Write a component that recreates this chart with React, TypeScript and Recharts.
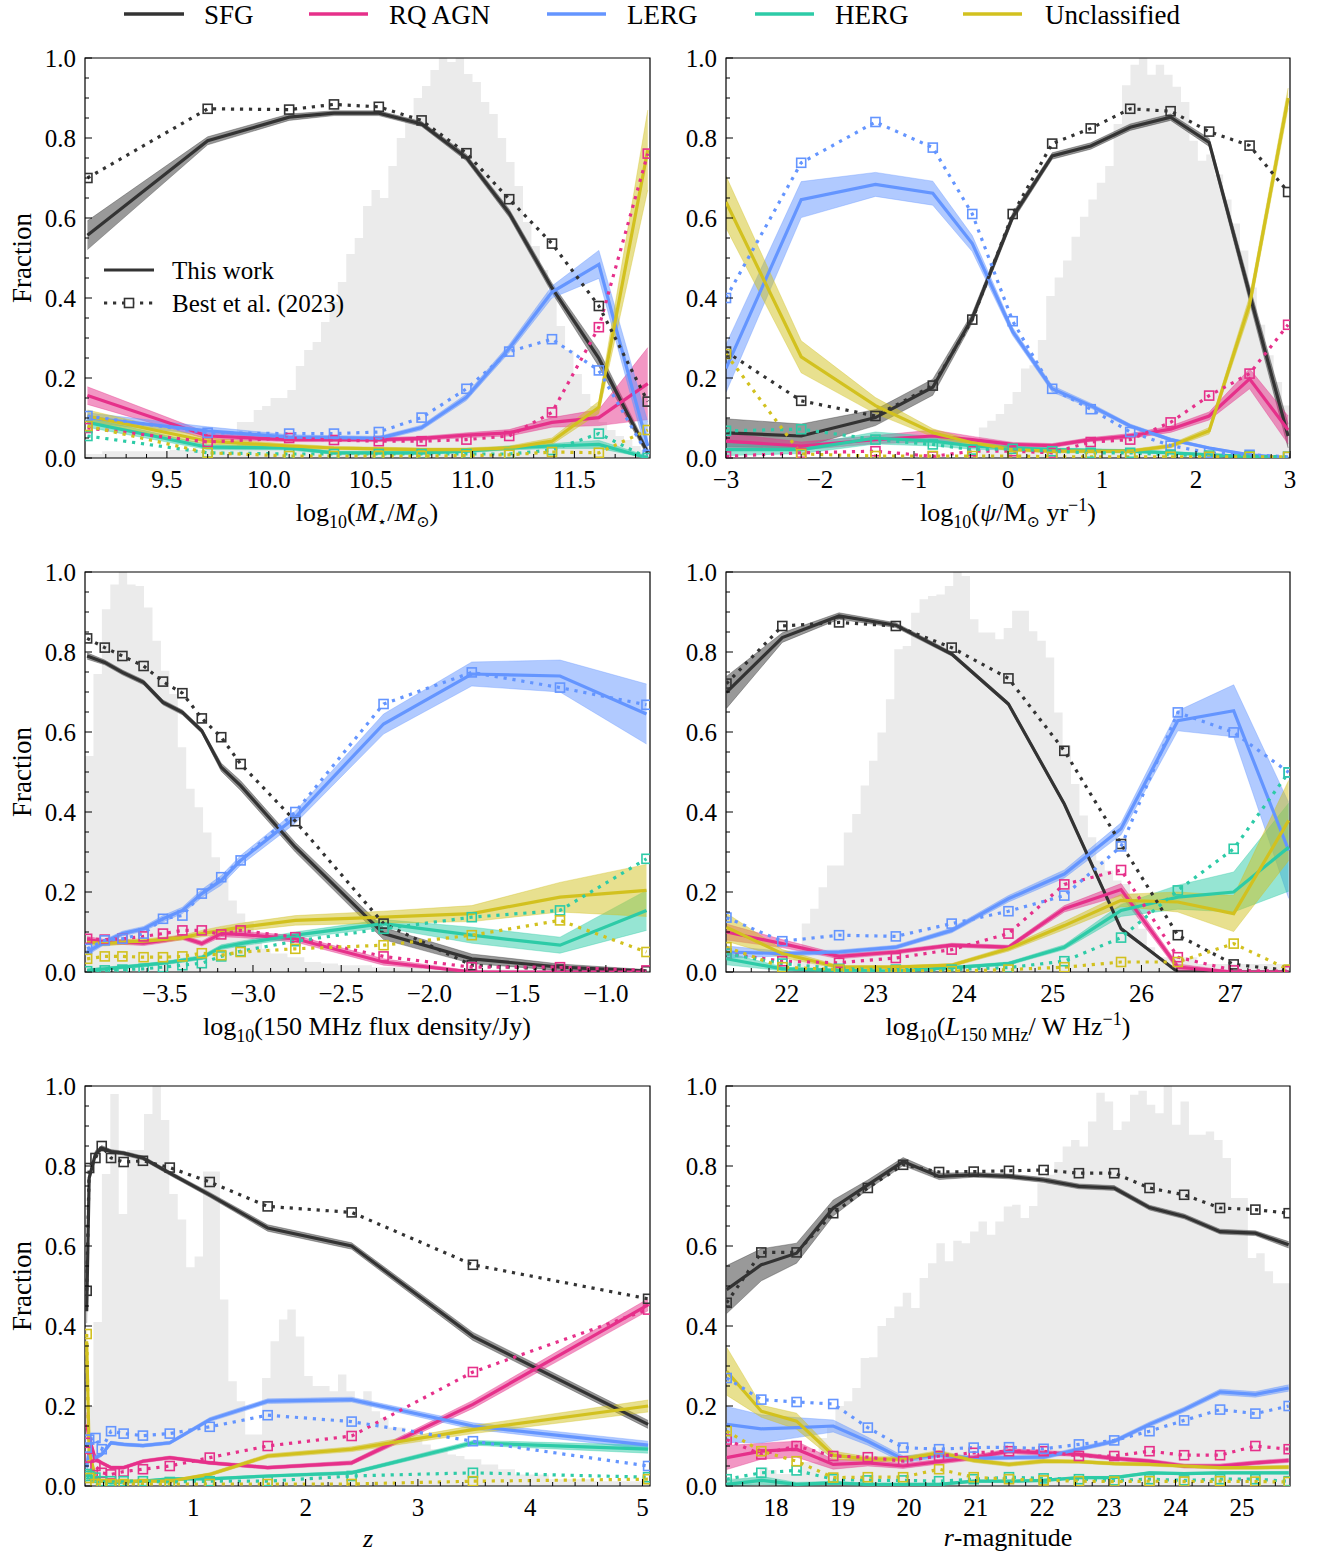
import React from 'react';
import { ComposedChart, Area, Line, XAxis, YAxis, ReferenceArea } from 'recharts';

const FONT = '"Liberation Serif", "DejaVu Serif", serif';

// class order: SFG, RQ AGN, LERG, HERG, Unclassified
const CLASS_NAMES = ['SFG', 'RQ AGN', 'LERG', 'HERG', 'Unclassified'];
const CLASS_COLORS = ['#333333', '#e6308a', '#6495ff', '#2dcba7', '#d2c11f'];

// ---- stellar mass ----
const massX = [9.11, 9.70, 10.10, 10.32, 10.54, 10.75, 10.97, 11.18, 11.39, 11.62, 11.86];
const massWork = [
  [0.557, 0.793, 0.852, 0.862, 0.862, 0.835, 0.751, 0.612, 0.425, 0.249, 0.013],
  [0.156, 0.055, 0.046, 0.046, 0.046, 0.049, 0.057, 0.063, 0.089, 0.101, 0.186],
  [0.101, 0.068, 0.052, 0.051, 0.049, 0.076, 0.152, 0.274, 0.415, 0.484, 0.03],
  [0.089, 0.027, 0.025, 0.013, 0.013, 0.013, 0.017, 0.025, 0.030, 0.034, 0.0],
  [0.105, 0.042, 0.030, 0.025, 0.023, 0.021, 0.021, 0.025, 0.042, 0.127, 0.77],
];
const massErr = [
  [0.036, 0.01, 0.008, 0.006, 0.006, 0.006, 0.008, 0.01, 0.012, 0.02, 0.01],
  [0.022, 0.008, 0.005, 0.005, 0.005, 0.005, 0.006, 0.008, 0.012, 0.02, 0.09],
  [0.012, 0.01, 0.006, 0.005, 0.005, 0.006, 0.008, 0.01, 0.015, 0.035, 0.06],
  [0.012, 0.006, 0.005, 0.004, 0.004, 0.004, 0.004, 0.005, 0.006, 0.01, 0.005],
  [0.015, 0.008, 0.005, 0.004, 0.004, 0.004, 0.004, 0.005, 0.008, 0.015, 0.1],
];
const massBest = [
  [0.70, 0.873, 0.871, 0.884, 0.878, 0.844, 0.762, 0.647, 0.536, 0.38, 0.141],
  [0.075, 0.04, 0.05, 0.045, 0.042, 0.042, 0.046, 0.055, 0.114, 0.327, 0.761],
  [0.105, 0.063, 0.061, 0.061, 0.065, 0.101, 0.173, 0.266, 0.297, 0.219, 0.008],
  [0.055, 0.013, 0.01, 0.01, 0.01, 0.01, 0.01, 0.01, 0.02, 0.061, 0.0],
  [0.08, 0.013, 0.005, 0.005, 0.005, 0.005, 0.006, 0.008, 0.015, 0.013, 0.07],
];
const massHistLo = 9.1;
const massHistBin = 0.0413;
const massHist = [0.01, 0.01, 0.017, 0.017, 0.017, 0.017, 0.017, 0.017, 0.017, 0.017, 0.02, 0.02, 0.02, 0.02, 0.02, 0.022, 0.022, 0.025, 0.09, 0.09, 0.12, 0.13, 0.15, 0.15, 0.17, 0.23, 0.27, 0.29, 0.34, 0.39, 0.44, 0.51, 0.55, 0.63, 0.67, 0.65, 0.73, 0.80, 0.85, 0.90, 0.93, 0.97, 1.0, 0.99, 1.0, 0.96, 0.94, 0.89, 0.86, 0.80, 0.74, 0.68, 0.59, 0.53, 0.47, 0.40, 0.33, 0.27, 0.21, 0.16, 0.13, 0.09, 0.07, 0.055, 0.045, 0.03, 0.02];

// ---- star formation rate ----
const sfrX = [-3.0, -2.2, -1.41, -0.80, -0.38, 0.05, 0.47, 0.88, 1.30, 1.73, 2.14, 2.57, 2.98];
const sfrWork = [
  [0.063, 0.055, 0.101, 0.177, 0.35, 0.603, 0.755, 0.78, 0.827, 0.852, 0.789, 0.41, 0.055],
  [0.042, 0.03, 0.046, 0.055, 0.046, 0.034, 0.031, 0.046, 0.055, 0.072, 0.105, 0.198, 0.07],
  [0.224, 0.646, 0.684, 0.662, 0.536, 0.316, 0.173, 0.131, 0.08, 0.046, 0.025, 0.008, 0.0],
  [0.021, 0.021, 0.05, 0.042, 0.03, 0.025, 0.021, 0.019, 0.017, 0.013, 0.008, 0.004, 0.0],
  [0.64, 0.253, 0.131, 0.063, 0.038, 0.021, 0.017, 0.017, 0.017, 0.03, 0.068, 0.384, 0.9],
];
const sfrErr = [
  [0.035, 0.03, 0.02, 0.02, 0.012, 0.01, 0.008, 0.008, 0.008, 0.008, 0.01, 0.02, 0.03],
  [0.02, 0.01, 0.01, 0.015, 0.008, 0.005, 0.005, 0.005, 0.006, 0.008, 0.01, 0.025, 0.035],
  [0.06, 0.045, 0.03, 0.03, 0.02, 0.01, 0.008, 0.006, 0.005, 0.004, 0.003, 0.002, 0.002],
  [0.015, 0.01, 0.015, 0.012, 0.008, 0.005, 0.004, 0.004, 0.004, 0.003, 0.003, 0.002, 0.002],
  [0.065, 0.04, 0.02, 0.01, 0.006, 0.004, 0.004, 0.004, 0.004, 0.005, 0.008, 0.02, 0.025],
];
const sfrBest = [
  [0.266, 0.143, 0.105, 0.181, 0.346, 0.61, 0.786, 0.824, 0.873, 0.867, 0.816, 0.781, 0.665],
  [0.004, 0.013, 0.017, 0.004, 0.017, 0.017, 0.013, 0.04, 0.046, 0.089, 0.156, 0.211, 0.333],
  [0.40, 0.738, 0.84, 0.776, 0.61, 0.342, 0.173, 0.122, 0.065, 0.031, 0.013, 0.008, 0.003],
  [0.068, 0.072, 0.046, 0.034, 0.021, 0.023, 0.017, 0.013, 0.013, 0.008, 0.006, 0.004, 0.003],
  [0.26, 0.01, 0.005, 0.005, 0.005, 0.005, 0.003, 0.003, 0.003, 0.003, 0.003, 0.003, 0.003],
];
const sfrHistLo = -0.31;
const sfrHistBin = 0.0896;
const sfrHist = [0.076, 0.093, 0.11, 0.135, 0.165, 0.224, 0.232, 0.295, 0.405, 0.451, 0.494, 0.553, 0.603, 0.646, 0.688, 0.73, 0.835, 0.932, 0.983, 1.0, 0.958, 0.983, 0.958, 0.928, 0.89, 0.793, 0.743, 0.759, 0.709, 0.646, 0.586, 0.519, 0.426, 0.333, 0.257, 0.19, 0.131];

// ---- 150 MHz flux density ----
const fluxX = [-3.94, -3.84, -3.74, -3.62, -3.51, -3.40, -3.29, -3.18, -3.07, -2.76, -2.26, -1.76, -1.26, -0.77];
const fluxWork = [
  [0.79, 0.774, 0.749, 0.724, 0.674, 0.649, 0.603, 0.512, 0.466, 0.312, 0.096, 0.033, 0.012, 0.002],
  [0.081, 0.075, 0.075, 0.072, 0.079, 0.087, 0.071, 0.096, 0.094, 0.083, 0.025, 0.0, 0.0, 0.0],
  [0.05, 0.075, 0.096, 0.108, 0.133, 0.154, 0.196, 0.229, 0.279, 0.387, 0.62, 0.745, 0.74, 0.645],
  [0.004, 0.008, 0.012, 0.017, 0.022, 0.029, 0.036, 0.062, 0.071, 0.092, 0.121, 0.092, 0.067, 0.154],
  [0.075, 0.071, 0.075, 0.077, 0.081, 0.086, 0.096, 0.104, 0.112, 0.129, 0.137, 0.146, 0.187, 0.204],
];
const fluxErr = [
  [0.008, 0.006, 0.006, 0.006, 0.006, 0.006, 0.006, 0.01, 0.012, 0.012, 0.015, 0.012, 0.008, 0.004],
  [0.008, 0.006, 0.006, 0.006, 0.006, 0.006, 0.006, 0.008, 0.008, 0.008, 0.008, 0.003, 0.002, 0.002],
  [0.008, 0.006, 0.006, 0.006, 0.008, 0.008, 0.01, 0.012, 0.012, 0.015, 0.025, 0.03, 0.04, 0.075],
  [0.004, 0.004, 0.004, 0.004, 0.004, 0.005, 0.005, 0.006, 0.006, 0.008, 0.01, 0.02, 0.02, 0.05],
  [0.006, 0.006, 0.006, 0.006, 0.006, 0.006, 0.008, 0.01, 0.01, 0.012, 0.015, 0.02, 0.037, 0.065],
];
const fluxBest = [
  [0.834, 0.811, 0.79, 0.765, 0.726, 0.697, 0.634, 0.587, 0.52, 0.377, 0.121, 0.017, 0.006, 0.002],
  [0.083, 0.081, 0.083, 0.089, 0.096, 0.104, 0.104, 0.094, 0.104, 0.087, 0.039, 0.012, 0.012, 0.004],
  [0.058, 0.079, 0.083, 0.096, 0.133, 0.141, 0.196, 0.237, 0.279, 0.40, 0.67, 0.749, 0.711, 0.668],
  [0.002, 0.004, 0.006, 0.008, 0.012, 0.017, 0.022, 0.039, 0.052, 0.077, 0.108, 0.137, 0.154, 0.283],
  [0.033, 0.039, 0.039, 0.037, 0.037, 0.039, 0.047, 0.042, 0.05, 0.058, 0.067, 0.092, 0.129, 0.05],
];
const fluxHistLo = -3.952;
const fluxHistBin = 0.0478;
const fluxHist = [0.54, 0.745, 0.907, 0.969, 1.0, 0.969, 0.965, 0.911, 0.828, 0.753, 0.695, 0.562, 0.458, 0.412, 0.349, 0.287, 0.245, 0.179, 0.146, 0.125, 0.075, 0.058, 0.046, 0.046, 0.037, 0.037, 0.025, 0.025, 0.021, 0.021, 0.017, 0.017, 0.017, 0.017, 0.012, 0.012, 0.012, 0.012, 0.012, 0.012, 0.008, 0.008, 0.008, 0.008, 0.008, 0.006, 0.006, 0.006, 0.006, 0.006, 0.006, 0.006, 0.006, 0.006, 0.006, 0.006, 0.006, 0.005, 0.005, 0.005, 0.005, 0.005, 0.005, 0.005, 0.005, 0.005, 0.005];

// ---- 150 MHz luminosity ----
const lumX = [21.32, 21.95, 22.59, 23.23, 23.86, 24.50, 25.13, 25.77, 26.41, 27.04, 27.66];
const lumWork = [
  [0.699, 0.836, 0.89, 0.867, 0.795, 0.67, 0.42, 0.108, 0.0, 0.0, 0.0],
  [0.10, 0.071, 0.039, 0.05, 0.067, 0.062, 0.158, 0.206, 0.012, 0.0, 0.0],
  [0.05, 0.046, 0.05, 0.062, 0.104, 0.183, 0.245, 0.358, 0.628, 0.653, 0.304],
  [0.033, 0.008, 0.004, 0.002, 0.011, 0.021, 0.062, 0.154, 0.187, 0.2, 0.312],
  [0.112, 0.046, 0.012, 0.012, 0.017, 0.058, 0.116, 0.179, 0.175, 0.146, 0.379],
];
const lumErr = [
  [0.04, 0.012, 0.008, 0.006, 0.005, 0.005, 0.005, 0.005, 0.002, 0.002, 0.002],
  [0.02, 0.01, 0.006, 0.005, 0.005, 0.005, 0.008, 0.015, 0.008, 0.002, 0.002],
  [0.015, 0.006, 0.005, 0.005, 0.006, 0.008, 0.01, 0.015, 0.025, 0.065, 0.12],
  [0.015, 0.005, 0.003, 0.002, 0.003, 0.004, 0.006, 0.015, 0.03, 0.05, 0.11],
  [0.035, 0.01, 0.004, 0.004, 0.004, 0.006, 0.01, 0.015, 0.025, 0.045, 0.1],
];
const lumBest = [
  [0.721, 0.865, 0.874, 0.865, 0.811, 0.734, 0.553, 0.32, 0.092, 0.019, 0.004],
  [0.046, 0.027, 0.023, 0.035, 0.056, 0.096, 0.219, 0.255, 0.037, 0.004, 0.002],
  [0.136, 0.077, 0.092, 0.089, 0.121, 0.152, 0.191, 0.314, 0.649, 0.599, 0.499],
  [0.046, 0.021, 0.008, 0.006, 0.006, 0.011, 0.027, 0.086, 0.204, 0.308, 0.499],
  [0.062, 0.012, 0.006, 0.004, 0.002, 0.006, 0.012, 0.025, 0.025, 0.071, 0.006],
];
const lumHistLo = 22.074;
const lumHistBin = 0.0949;
const lumHist = [0.05, 0.121, 0.158, 0.212, 0.266, 0.266, 0.349, 0.395, 0.466, 0.528, 0.599, 0.682, 0.807, 0.815, 0.898, 0.932, 0.94, 0.944, 0.965, 1.0, 0.99, 0.882, 0.849, 0.849, 0.832, 0.86, 0.903, 0.903, 0.852, 0.828, 0.786, 0.649, 0.566, 0.47, 0.391, 0.337, 0.279, 0.254, 0.229, 0.22, 0.196, 0.108, 0.062, 0.037, 0.037, 0.037, 0.037, 0.037, 0.02, 0.02, 0.02, 0.02, 0.02, 0.02, 0.02, 0.02, 0.02, 0.02, 0.02];

// ---- redshift ----
const zX = [0.05, 0.072, 0.128, 0.184, 0.267, 0.379, 0.551, 0.79, 1.146, 1.662, 2.41, 3.49, 5.05];
const zWork = [
  [0.437, 0.77, 0.83, 0.845, 0.836, 0.832, 0.82, 0.782, 0.728, 0.645, 0.60, 0.374, 0.154],
  [0.154, 0.12, 0.067, 0.058, 0.046, 0.046, 0.062, 0.071, 0.058, 0.046, 0.058, 0.204, 0.453],
  [0.046, 0.087, 0.071, 0.079, 0.108, 0.104, 0.101, 0.108, 0.166, 0.212, 0.216, 0.15, 0.102],
  [0.021, 0.029, 0.017, 0.012, 0.008, 0.01, 0.012, 0.018, 0.018, 0.025, 0.033, 0.108, 0.092],
  [0.362, 0.087, 0.021, 0.012, 0.012, 0.012, 0.012, 0.012, 0.029, 0.075, 0.092, 0.141, 0.20],
];
const zErr = [
  [0.03, 0.01, 0.008, 0.006, 0.005, 0.005, 0.005, 0.005, 0.006, 0.008, 0.008, 0.01, 0.01],
  [0.03, 0.015, 0.006, 0.004, 0.004, 0.004, 0.004, 0.004, 0.004, 0.004, 0.005, 0.01, 0.015],
  [0.02, 0.01, 0.006, 0.005, 0.004, 0.004, 0.004, 0.004, 0.005, 0.006, 0.006, 0.008, 0.01],
  [0.01, 0.008, 0.004, 0.003, 0.003, 0.003, 0.003, 0.003, 0.003, 0.003, 0.004, 0.006, 0.01],
  [0.03, 0.015, 0.005, 0.003, 0.003, 0.003, 0.003, 0.003, 0.004, 0.005, 0.006, 0.01, 0.015],
];
const zBest = [
  [0.488, 0.795, 0.82, 0.85, 0.82, 0.81, 0.813, 0.796, 0.76, 0.699, 0.684, 0.553, 0.468],
  [0.108, 0.071, 0.05, 0.033, 0.029, 0.036, 0.042, 0.05, 0.071, 0.10, 0.125, 0.285, 0.441],
  [0.096, 0.116, 0.12, 0.092, 0.137, 0.131, 0.126, 0.131, 0.148, 0.177, 0.161, 0.112, 0.05],
  [0.03, 0.025, 0.021, 0.012, 0.012, 0.012, 0.012, 0.01, 0.012, 0.012, 0.025, 0.033, 0.022],
  [0.38, 0.02, 0.005, 0.005, 0.005, 0.005, 0.005, 0.005, 0.005, 0.005, 0.005, 0.012, 0.017],
];
const zHistLo = 0.035;
const zHistBin = 0.0751;
const zHist = [0.2, 0.41, 0.78, 0.98, 0.68, 0.84, 0.84, 0.93, 1.0, 0.915, 0.73, 0.666, 0.547, 0.574, 0.786, 0.786, 0.466, 0.262, 0.212, 0.129, 0.129, 0.27, 0.362, 0.416, 0.441, 0.374, 0.275, 0.25, 0.25, 0.237, 0.279, 0.237, 0.212, 0.237, 0.187, 0.17, 0.146, 0.146, 0.116, 0.116, 0.104, 0.092, 0.092, 0.079, 0.075, 0.067, 0.067, 0.054, 0.054, 0.042, 0.042, 0.029, 0.029, 0.029, 0.029, 0.017, 0.017, 0.017, 0.017, 0.017, 0.012, 0.012, 0.012, 0.012, 0.012, 0.012, 0.012];

// ---- r-band magnitude ----
const rX = [17.26, 17.78, 18.31, 18.86, 19.38, 19.91, 20.45, 20.97, 21.50, 22.02, 22.55, 23.08, 23.61, 24.13, 24.67, 25.20, 25.70];
const rWork = [
  [0.491, 0.553, 0.582, 0.695, 0.753, 0.811, 0.774, 0.778, 0.774, 0.765, 0.749, 0.745, 0.696, 0.674, 0.636, 0.632, 0.603],
  [0.071, 0.087, 0.092, 0.054, 0.058, 0.05, 0.061, 0.071, 0.087, 0.083, 0.079, 0.069, 0.062, 0.05, 0.05, 0.058, 0.064],
  [0.154, 0.143, 0.146, 0.15, 0.112, 0.067, 0.077, 0.069, 0.071, 0.072, 0.092, 0.112, 0.154, 0.191, 0.235, 0.229, 0.245],
  [0.004, 0.014, 0.004, 0.008, 0.004, 0.004, 0.004, 0.012, 0.012, 0.014, 0.021, 0.021, 0.033, 0.031, 0.033, 0.033, 0.033],
  [0.287, 0.187, 0.162, 0.077, 0.067, 0.067, 0.083, 0.064, 0.054, 0.062, 0.061, 0.056, 0.054, 0.05, 0.046, 0.046, 0.047],
];
const rErr = [
  [0.06, 0.04, 0.025, 0.02, 0.012, 0.01, 0.008, 0.006, 0.006, 0.006, 0.006, 0.006, 0.006, 0.006, 0.006, 0.006, 0.008],
  [0.03, 0.02, 0.02, 0.012, 0.008, 0.006, 0.006, 0.006, 0.006, 0.006, 0.005, 0.005, 0.005, 0.005, 0.005, 0.005, 0.005],
  [0.045, 0.035, 0.025, 0.015, 0.01, 0.008, 0.006, 0.005, 0.005, 0.005, 0.005, 0.005, 0.006, 0.006, 0.007, 0.007, 0.008],
  [0.01, 0.01, 0.005, 0.004, 0.003, 0.003, 0.003, 0.003, 0.003, 0.003, 0.003, 0.003, 0.003, 0.003, 0.003, 0.003, 0.003],
  [0.06, 0.015, 0.02, 0.01, 0.006, 0.006, 0.006, 0.005, 0.005, 0.005, 0.004, 0.004, 0.004, 0.004, 0.004, 0.004, 0.004],
];
const rBest = [
  [0.458, 0.584, 0.584, 0.682, 0.745, 0.803, 0.785, 0.786, 0.788, 0.79, 0.782, 0.782, 0.745, 0.728, 0.695, 0.691, 0.682],
  [0.116, 0.079, 0.10, 0.075, 0.072, 0.062, 0.075, 0.083, 0.087, 0.087, 0.075, 0.075, 0.087, 0.077, 0.077, 0.10, 0.092],
  [0.27, 0.216, 0.21, 0.205, 0.146, 0.096, 0.092, 0.096, 0.097, 0.093, 0.104, 0.114, 0.137, 0.164, 0.191, 0.181, 0.20],
  [0.017, 0.033, 0.039, 0.017, 0.014, 0.014, 0.012, 0.017, 0.022, 0.019, 0.017, 0.014, 0.017, 0.014, 0.017, 0.017, 0.012],
  [0.137, 0.087, 0.062, 0.021, 0.022, 0.022, 0.042, 0.022, 0.017, 0.014, 0.012, 0.011, 0.012, 0.011, 0.012, 0.011, 0.01],
];
const rHistLo = 17.25;
const rHistBin = 0.1264;
const rHist = [0.02, 0.02, 0.02, 0.02, 0.046, 0.04, 0.03, 0.03, 0.03, 0.06, 0.06, 0.12, 0.15, 0.2, 0.212, 0.245, 0.32, 0.322, 0.4, 0.42, 0.449, 0.483, 0.445, 0.52, 0.557, 0.607, 0.562, 0.613, 0.607, 0.636, 0.661, 0.628, 0.661, 0.699, 0.703, 0.67, 0.7, 0.757, 0.778, 0.81, 0.849, 0.865, 0.849, 0.911, 0.983, 0.961, 0.89, 0.911, 0.978, 0.988, 0.953, 0.932, 1.0, 0.903, 0.961, 0.878, 0.878, 0.886, 0.865, 0.82, 0.72, 0.72, 0.57, 0.582, 0.537, 0.507, 0.507];

const steps = (a: number, b: number, s: number) => {
  const out: number[] = [];
  for (let v = a; v <= b + 1e-9; v += s) out.push(Math.round(v * 1000) / 1000);
  return out;
};
const minus = (s: string) => s.replace('-', '\u2212');

function buildRows(xs: number[], work: number[][], err: number[][], best: number[][], histLo: number, histBin: number, hist: number[]) {
  const rows: any[] = [];
  hist.forEach((h, k) => rows.push({ x: histLo + k * histBin, h }));
  rows.push({ x: histLo + hist.length * histBin, h: hist[hist.length - 1] });
  xs.forEach((x, j) => {
    const r: any = { x };
    for (let i = 0; i < 5; i++) {
      const v = work[i][j];
      r['w' + i] = v;
      r['band' + i] = [Math.max(0, v - err[i][j]), Math.min(1, v + err[i][j])];
      r['b' + i] = best[i][j];
    }
    rows.push(r);
  });
  rows.sort((a, b) => a.x - b.x);
  return rows;
}

const squareDot = (color: string) => (p: any) => {
  const key = `sq-${p.index}`;
  if (p.cx == null || p.cy == null || p.value == null) return <g key={key} />;
  return <rect key={key} x={p.cx - 4.5} y={p.cy - 4.5} width={9} height={9} fill="none" stroke={color} strokeWidth={1.6} />;
};

const isIn = (list: number[], v: number) => list.some((m) => Math.abs(m - v) < 1e-6);

// axis boxes are 1px wide/high so recharts still renders them; ticks point inward
const xTick = (majors: number[], fmt: (v: number) => string) => (p: any) => {
  const v = p.payload.value;
  const major = isIn(majors, v);
  return (
    <g>
      <line x1={p.x} x2={p.x} y1={p.y} y2={p.y - (major ? 7 : 4)} stroke="#000" strokeWidth={1} />
      {major && (
        <text x={p.x} y={p.y + 30} textAnchor="middle" fontSize={25} fontFamily={FONT} fill="#000">{fmt(v)}</text>
      )}
    </g>
  );
};

const Y_MAJORS = [0, 0.2, 0.4, 0.6, 0.8, 1.0];
const yTick = (p: any) => {
  const v = p.payload.value;
  const major = isIn(Y_MAJORS, v);
  return (
    <g>
      <line x1={p.x} x2={p.x + (major ? 7 : 4)} y1={p.y} y2={p.y} stroke="#000" strokeWidth={1} />
      {major && (
        <text x={p.x - 9} y={p.y + 8.5} textAnchor="end" fontSize={25} fontFamily={FONT} fill="#000">{v.toFixed(1)}</text>
      )}
    </g>
  );
};

type PanelProps = {
  left: number; top: number; ml: number; mr: number;
  domain: [number, number]; majors: number[]; ticks: number[]; fmt: (v: number) => string;
  xs: number[]; work: number[][]; err: number[][]; best: number[][];
  histLo: number; histBin: number; hist: number[];
};

function Panel(p: PanelProps) {
  const rows = buildRows(p.xs, p.work, p.err, p.best, p.histLo, p.histBin, p.hist);
  return (
    <div style={{ position: 'absolute', left: p.left, top: p.top }}>
      <ComposedChart width={660} height={514} data={rows} margin={{ top: 58, right: p.mr, bottom: 55, left: p.ml - 1 }}>
        <XAxis dataKey="x" type="number" domain={p.domain} ticks={p.ticks} interval={0} allowDataOverflow
          axisLine={false} tickLine={false} tickSize={0} tickMargin={0} height={1} tick={xTick(p.majors, p.fmt)} />
        <YAxis type="number" domain={[0, 1]} ticks={steps(0, 1, 0.05)} interval={0} allowDataOverflow
          axisLine={false} tickLine={false} tickSize={0} tickMargin={0} width={1} tick={yTick} />
        <Area dataKey="h" type="stepAfter" fill="#ebebeb" fillOpacity={1} stroke="none" connectNulls isAnimationActive={false} />
        {CLASS_COLORS.map((c, i) => (
          <Area key={'band' + i} dataKey={'band' + i} type="linear" fill={c} fillOpacity={0.5} stroke={c} strokeOpacity={0.35} strokeWidth={1} connectNulls isAnimationActive={false} />
        ))}
        {CLASS_COLORS.map((c, i) => (
          <Line key={'w' + i} dataKey={'w' + i} type="linear" stroke={c} strokeWidth={3.2} dot={false} connectNulls isAnimationActive={false} />
        ))}
        {CLASS_COLORS.map((c, i) => (
          <Line key={'b' + i} dataKey={'b' + i} type="linear" stroke={c} strokeWidth={3.2} strokeDasharray="3.2 5.8" dot={squareDot(c)} connectNulls isAnimationActive={false} />
        ))}
        <ReferenceArea x1={p.domain[0]} x2={p.domain[1]} y1={0} y2={1} fill="none" stroke="#000" strokeWidth={1.2} ifOverflow="visible" />
      </ComposedChart>
    </div>
  );
}

const sub = (t: string, size = 18) => [
  <tspan key="s" dy={7} fontSize={size}>{t}</tspan>,
];

export default function App() {
  const oneDec = (v: number) => minus(v.toFixed(1));
  const intFmt = (v: number) => minus(String(Math.round(v)));
  const txt = { fontFamily: FONT, fill: '#000' } as const;
  const legendItems = [
    { x1: 124, x2: 184, tx: 204 },
    { x1: 309, x2: 368, tx: 389 },
    { x1: 547, x2: 606, tx: 627 },
    { x1: 755, x2: 814, tx: 835 },
    { x1: 963, x2: 1022, tx: 1045 },
  ];
  return (
    <div style={{ position: 'absolute', left: 0, top: 0, width: 1319, height: 1556, background: '#fff' }}>
      <Panel left={0} top={0} ml={85} mr={10} domain={[9.098, 11.871]} majors={[9.5, 10, 10.5, 11, 11.5]} ticks={steps(9.2, 11.8, 0.1)} fmt={oneDec}
        xs={massX} work={massWork} err={massErr} best={massBest} histLo={massHistLo} histBin={massHistBin} hist={massHist} />
      <Panel left={660} top={0} ml={66} mr={30} domain={[-3, 3]} majors={[-3, -2, -1, 0, 1, 2, 3]} ticks={steps(-3, 3, 0.2)} fmt={intFmt}
        xs={sfrX} work={sfrWork} err={sfrErr} best={sfrBest} histLo={sfrHistLo} histBin={sfrHistBin} hist={sfrHist} />
      <Panel left={0} top={514} ml={85} mr={10} domain={[-3.952, -0.75]} majors={[-3.5, -3, -2.5, -2, -1.5, -1]} ticks={steps(-3.9, -0.8, 0.1)} fmt={oneDec}
        xs={fluxX} work={fluxWork} err={fluxErr} best={fluxBest} histLo={fluxHistLo} histBin={fluxHistBin} hist={fluxHist} />
      <Panel left={660} top={514} ml={66} mr={30} domain={[21.315, 27.675]} majors={[22, 23, 24, 25, 26, 27]} ticks={steps(21.4, 27.6, 0.2)} fmt={intFmt}
        xs={lumX} work={lumWork} err={lumErr} best={lumBest} histLo={lumHistLo} histBin={lumHistBin} hist={lumHist} />
      <Panel left={0} top={1028} ml={85} mr={10} domain={[0.035, 5.067]} majors={[1, 2, 3, 4, 5]} ticks={steps(0.2, 5, 0.2)} fmt={intFmt}
        xs={zX} work={zWork} err={zErr} best={zBest} histLo={zHistLo} histBin={zHistBin} hist={zHist} />
      <Panel left={660} top={1028} ml={66} mr={30} domain={[17.25, 25.72]} majors={[18, 19, 20, 21, 22, 23, 24, 25]} ticks={steps(17.5, 25.5, 0.25)} fmt={intFmt}
        xs={rX} work={rWork} err={rErr} best={rBest} histLo={rHistLo} histBin={rHistBin} hist={rHist} />

      <svg width={1319} height={1556} style={{ position: 'absolute', left: 0, top: 0, pointerEvents: 'none' }}>
        {legendItems.map((l, i) => (
          <g key={i}>
            <line x1={l.x1} x2={l.x2} y1={14} y2={14} stroke={CLASS_COLORS[i]} strokeWidth={3.5} />
            <text x={l.tx} y={24} fontSize={27} {...txt}>{CLASS_NAMES[i]}</text>
          </g>
        ))}

        <line x1={104} x2={154} y1={270} y2={270} stroke="#333333" strokeWidth={3.2} />
        <text x={172} y={279} fontSize={25} {...txt}>This work</text>
        <line x1={104} x2={154} y1={303} y2={303} stroke="#333333" strokeWidth={3.2} strokeDasharray="3.2 5.8" />
        <rect x={124.5} y={298.5} width={9} height={9} fill="#fff" stroke="#333333" strokeWidth={1.6} />
        <text x={172} y={312} fontSize={25} {...txt}>Best et al. (2023)</text>

        {[258, 772, 1286].map((cy) => (
          <text key={cy} x={31} y={cy} transform={`rotate(-90 31 ${cy})`} textAnchor="middle" fontSize={27} {...txt}>Fraction</text>
        ))}

        <text x={367} y={521} textAnchor="middle" fontSize={26} {...txt}>
          log{sub('10')}<tspan dy={-7}>(</tspan><tspan fontStyle="italic">M</tspan><tspan dy={6} fontSize={16}>⋆</tspan><tspan dy={-6}>/</tspan><tspan fontStyle="italic">M</tspan><tspan dy={6} fontSize={16}>⊙</tspan><tspan dy={-6}>)</tspan>
        </text>
        <text x={1008} y={521} textAnchor="middle" fontSize={26} {...txt}>
          log{sub('10')}<tspan dy={-7}>(</tspan><tspan fontStyle="italic">ψ</tspan><tspan>/M</tspan><tspan dy={6} fontSize={16}>⊙</tspan><tspan dy={-6}> yr</tspan><tspan dy={-10} fontSize={18}>−1</tspan><tspan dy={10}>)</tspan>
        </text>
        <text x={367} y={1035} textAnchor="middle" fontSize={26} {...txt}>
          log{sub('10')}<tspan dy={-7}>(150 MHz flux density/Jy)</tspan>
        </text>
        <text x={1008} y={1035} textAnchor="middle" fontSize={26} {...txt}>
          log{sub('10')}<tspan dy={-7}>(</tspan><tspan fontStyle="italic">L</tspan><tspan dy={6} fontSize={18}>150 MHz</tspan><tspan dy={-6}>/ W Hz</tspan><tspan dy={-10} fontSize={18}>−1</tspan><tspan dy={10}>)</tspan>
        </text>
        <text x={368} y={1547} textAnchor="middle" fontSize={26} fontStyle="italic" {...txt}>z</text>
        <text x={1008} y={1546} textAnchor="middle" fontSize={26} {...txt}>
          <tspan fontStyle="italic">r</tspan>-magnitude
        </text>
      </svg>
    </div>
  );
}
